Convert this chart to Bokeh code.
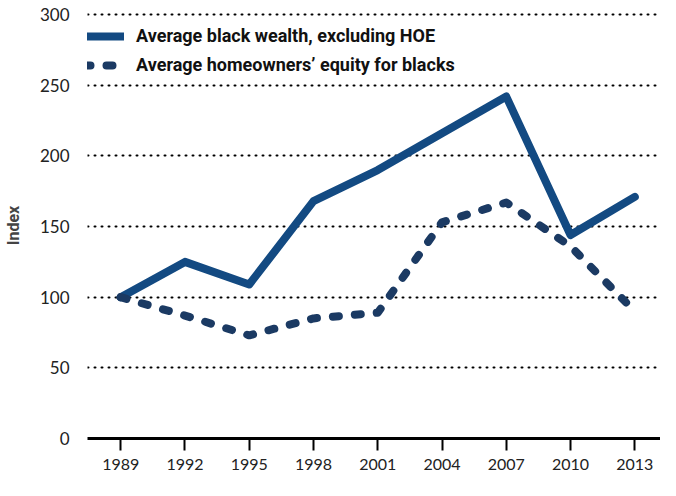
from bokeh.plotting import figure
from bokeh.models import Range1d, FixedTicker, Legend, LegendItem, ColumnDataSource
from bokeh.embed import file_html
from bokeh.resources import INLINE

years = [1989, 1992, 1995, 1998, 2001, 2004, 2007, 2010, 2013]
wealth_ex_hoe = [100, 125, 109, 168, 190, 216, 242, 144, 171]
hoe_equity = [100, 87, 73, 85, 89, 153, 167, 136, 90]
y_ticks = [0, 50, 100, 150, 200, 250, 300]
label_solid = "Average black wealth, excluding HOE"
label_dash = "Average homeowners\u2019 equity for blacks"

p = figure(width=660, height=480, output_backend="svg", toolbar_location=None,
           x_range=Range1d(1987.45, 2014.2), y_range=Range1d(0, 301.5),
           min_border_left=80, min_border_top=12, min_border_right=0, min_border_bottom=42)
p.outline_line_color = None
p.background_fill_color = "white"

src = ColumnDataSource(dict(x=years, a=wealth_ex_hoe, b=hoe_equity))
r1 = p.line("x", "a", source=src, line_width=8, line_color="#134a82", line_join="round", line_cap="round")
r2 = p.line("x", "b", source=src, line_width=8, line_color="#1b3a63", line_dash="6 16",
            line_join="round", line_cap="round")

# axes
p.xaxis.ticker = FixedTicker(ticks=years)
p.xaxis.axis_line_width = 3
p.xaxis.axis_line_color = "black"
p.xaxis.major_tick_out = 12
p.xaxis.major_tick_in = 0
p.xaxis.major_tick_line_width = 2
p.xaxis.minor_tick_line_color = None
p.xaxis.major_label_text_font = "Lato"
p.xaxis.major_label_text_font_size = "16px"
p.xaxis.major_label_text_color = "#222222"
p.xaxis.major_label_standoff = 8

p.yaxis.ticker = FixedTicker(ticks=y_ticks)
p.yaxis.axis_line_color = None
p.yaxis.major_tick_line_color = None
p.yaxis.minor_tick_line_color = None
p.yaxis.major_label_text_font = "Lato"
p.yaxis.major_label_text_font_size = "17px"
p.yaxis.major_label_text_color = "#222222"
p.yaxis.major_label_standoff = 12
p.yaxis.axis_label = "Index"
p.yaxis.axis_label_text_font = "Roboto"
p.yaxis.axis_label_text_font_style = "bold"
p.yaxis.axis_label_text_font_size = "16px"
p.yaxis.axis_label_standoff = 14

p.xgrid.grid_line_color = None
p.ygrid.grid_line_color = "black"
p.ygrid.grid_line_width = 2
p.ygrid.grid_line_dash = "1 6"
p.ygrid.grid_line_cap = "round"

frame_h = 480 - 12 - 42
legend_h = 20 + 8 + 20
legend = Legend(items=[LegendItem(label=label_solid, renderers=[r1]),
                       LegendItem(label=label_dash, renderers=[r2])],
                location=(-3, frame_h - 15 - legend_h))
legend.background_fill_alpha = 0
legend.border_line_color = None
legend.glyph_width = 40
legend.glyph_height = 20
legend.label_height = 20
legend.spacing = 8
legend.padding = 0
legend.margin = 0
legend.label_standoff = 12
legend.label_text_font = "Roboto"
legend.label_text_font_style = "bold"
legend.label_text_font_size = "18px"
legend.label_text_color = "#111111"
p.add_layout(legend)

open("out.html", "w").write(file_html(p, INLINE))
